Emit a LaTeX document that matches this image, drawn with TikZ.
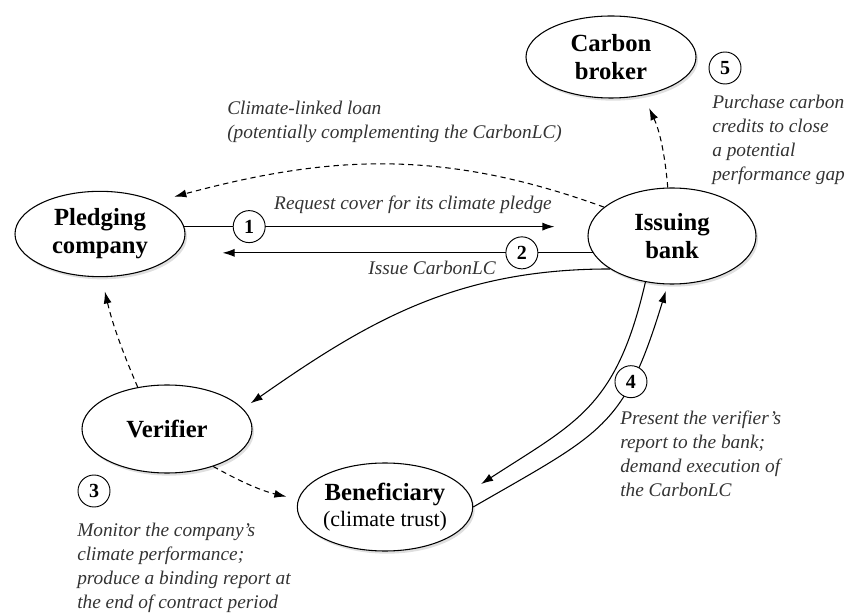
\documentclass[tikz,border=0pt]{standalone}
\usepackage{fontspec}
\setmainfont{Liberation Serif}
\usetikzlibrary{arrows.meta,shapes.geometric,shadows}

\tikzset{
  party/.style={ellipse, draw, line width=0.8pt, fill=white, inner sep=0pt,
    minimum width=127.5pt, minimum height=64pt, align=center,
    font=\fontsize{18.5}{21}\selectfont\bfseries,
    drop shadow={shadow xshift=1.5pt, shadow yshift=-2pt, opacity=0.25}},
  num/.style={circle, draw, line width=0.7pt, fill=white, minimum size=24pt,
    inner sep=0pt, font=\fontsize{15}{15}\selectfont\bfseries},
  note/.style={align=left, inner sep=0pt, text=black!80,
    font=\fontsize{14.5}{18}\selectfont\itshape},
  flow/.style={line width=0.8pt, -{Latex[length=9pt,width=6pt]}},
  dotflow/.style={flow, dash pattern=on 4pt off 3pt},
}

\begin{document}
\begin{tikzpicture}[x=0.75pt, y=0.75pt]
  \useasboundingbox (0,0) rectangle (845,614);
  %% parties
  \node[party, minimum height=61.5pt] (broker) at (611,557) {Carbon\\broker};
  \node[party, minimum width=126pt, minimum height=72pt] (bank) at (672,378) {Issuing\\bank};
  \node[party] (pledge) at (100,380) {Pledging\\company};
  \node[party, minimum height=66pt] (verifier) at (167,185) {Verifier};
  \node[party, minimum height=66pt] (benef) at (385,107)
    {Beneficiary\\[-2pt]{\fontsize{16.5}{19}\selectfont\mdseries (climate trust)}};

  %% steps
  \draw[flow, shorten >=24.75pt] (pledge.5) -- node[num, pos=0.161] (n1) {1} (pledge.5 -| bank.west);
  \draw[flow, shorten >=27.75pt] (bank.192) -- node[num, pos=0.174] (n2) {2} (bank.192 -| pledge.east);
  \draw[dotflow, shorten >=14pt] (bank.157) to[out=160, in=15] (pledge.30);
  \draw[dotflow, shorten >=10.5pt] (bank.95) to[bend right=10] (broker.310);
  \draw[flow, shorten >=7pt] (bank.208) to[out=180, in=35] (verifier.15);
  \draw[dotflow, shorten >=11pt] (verifier.125) to[bend left=5] (pledge.272);
  \draw[dotflow, shorten >=9pt] (verifier.-39) to[bend right=8] (benef.175);
  \draw[flow, shorten >=11.5pt] (bank.240) to[out=-103, in=33, looseness=1.2] (benef.10);
  \draw[flow, shorten >=5pt] (benef.east) to[out=30, in=-107, looseness=1.3]
    node[num, pos=0.7] (n4) {4} (bank.265);
  \node[num] (n3) at (94,123) {3};
  \node[num] (n5) at (725,546) {5};

  %% labels
  \node[note] (req) at (413,409) {Request cover for its climate pledge};
  \node[note] (issue) at (432,346) {Issue CarbonLC};
  \node[note, anchor=west] (loan) at (227,492) {Climate-linked loan\\(potentially complementing the CarbonLC)};
  \node[note, anchor=west] (buy) at (712,474) {Purchase carbon\\credits to close\\a potential\\performance gap};
  \node[note, anchor=west] (present) at (620,160) {Present the verifier's\\report to the bank;\\demand execution of\\the CarbonLC};
  \node[note, anchor=west] (monitor) at (77,46) {Monitor the company's\\climate performance;\\produce a binding report at\\the end of contract period};
\end{tikzpicture}
\end{document}
